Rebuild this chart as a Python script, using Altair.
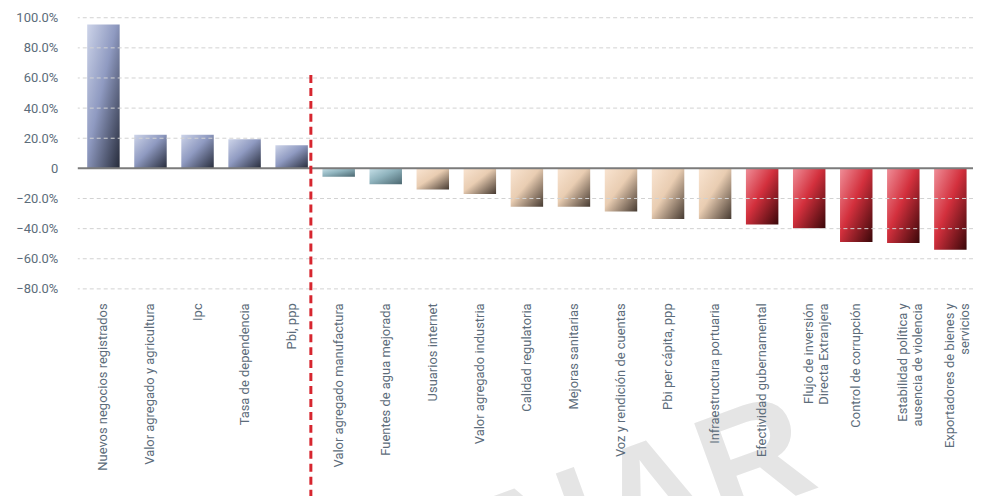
import altair as alt
import pandas as pd

categories = [
    "Nuevos negocios registrados",
    "Valor agregado y agricultura",
    "Ipc",
    "Tasa de dependencia",
    "Pbi, ppp",
    "Valor agregado manufactura",
    "Fuentes de agua mejorada",
    "Usuarios internet",
    "Valor agregado industria",
    "Calidad regulatoria",
    "Mejoras sanitarias",
    "Voz y rendición de cuentas",
    "Pbi per cápita, ppp",
    "Infraestructura portuaria",
    "Efectividad gubernamental",
    "Flujo de inversión|Directa Extranjera",
    "Control de corrupción",
    "Estabilidad política y|ausencia de violencia",
    "Exportadores de bienes y|servicios",
]
values = [95.5, 22.4, 22.4, 19.3, 15.3, -5.5, -10.5, -14.0, -17.0, -25.4, -25.4,
          -28.6, -33.6, -33.6, -37.3, -39.8, -48.8, -49.5, -54.0]
groups = ["blue"] * 5 + ["teal"] * 2 + ["tan"] * 7 + ["red"] * 5
y_ticks = [-80, -60, -40, -20, 0, 20, 40, 60, 80, 100]
grid_values = [-80, -60, -40, -20, 20, 40, 60, 80, 100]

df = pd.DataFrame({"cat": categories, "value": values, "group": groups})

FONT = "Roboto, Liberation Sans, sans-serif"
LABEL_COLOR = "#5c6c7a"

gradients = {
    "blue": ["#cdd4e9", "#8f9ac1", "#262b3a"],
    "teal": ["#c6e0e8", "#8fb3bd", "#4b6770"],
    "tan": ["#f9e4d1", "#e9cdb2", "#463a31"],
    "red": ["#ef8e98", "#d3303d", "#3a0709"],
}

x_scale = alt.Scale(paddingInner=0.31, paddingOuter=0.2)
y_scale = alt.Scale(domain=[-80, 100], nice=False, zero=False)

x_axis = alt.Axis(title=None, labelAngle=270, labelExpr="split(datum.label, '|')",
                  labelFont=FONT, labelFontSize=13, labelColor=LABEL_COLOR,
                  labelPadding=14, ticks=False, domain=False, grid=False,
                  domainOpacity=0, gridOpacity=0, tickOpacity=0,
                  labelLineHeight=15, labelLimit=400, zindex=1,
                  labelAlign="right", labelBaseline="middle", labelOverlap=False)
y_axis = alt.Axis(title=None, values=y_ticks, grid=False, domain=False, ticks=False,
                  domainOpacity=0, gridOpacity=0, tickOpacity=0,
                  labelExpr="datum.value == 0 ? '0' : format(datum.value, '.1f') + '%'",
                  labelFont=FONT, labelFontSize=13, labelColor=LABEL_COLOR,
                  labelPadding=20, zindex=1, labelOverlap=False)

x_enc = alt.X("cat:N", sort=categories, scale=x_scale, axis=x_axis)
y_enc = alt.Y("value:Q", scale=y_scale, axis=y_axis)

watermark = alt.Chart(pd.DataFrame({"t": ["PRELIMINAR"]})).mark_text(
    angle=340, align="right", baseline="alphabetic", fontSize=150, fontWeight="bold",
    font="Liberation Sans", color="#e5e5e5", clip=False, xOffset=-35,
).encode(
    text="t:N",
    x=alt.X(datum="Control de corrupción", scale=x_scale, axis=x_axis),
    y=alt.Y(datum=-211, scale=y_scale, axis=y_axis),
)

bar_layers = []
for g, cols in gradients.items():
    grad = alt.Gradient(
        gradient="linear",
        stops=[alt.GradientStop(color=cols[0], offset=0),
               alt.GradientStop(color=cols[1], offset=0.45),
               alt.GradientStop(color=cols[2], offset=1)],
        x1=0, y1=0, x2=1, y2=1,
    )
    bar_layers.append(
        alt.Chart(df).transform_filter(alt.datum.group == g)
        .mark_bar(color=grad).encode(x=x_enc, y=y_enc)
    )

grid = alt.Chart(pd.DataFrame({"g": grid_values})).mark_rule(
    color="#d2d2d2", strokeDash=[4, 3], strokeWidth=1, xOffset=-3, x2Offset=6, clip=False
).encode(y=alt.Y("g:Q", scale=y_scale, axis=y_axis))

zero = alt.Chart(pd.DataFrame({"z": [0]})).mark_rule(
    color="#7b7b7b", strokeWidth=2, xOffset=-3, x2Offset=6, clip=False
).encode(y=alt.Y("z:Q", scale=y_scale, axis=y_axis))

divider = alt.Chart(pd.DataFrame({"cat": ["Pbi, ppp"], "top": [62], "bot": [-230]})).mark_rule(
    color="#d7262f", strokeWidth=3, strokeDash=[8, 5], clip=False, xOffset=3
).encode(
    x=alt.X("cat:N", sort=categories, bandPosition=1, scale=x_scale, axis=x_axis),
    y=alt.Y("top:Q", scale=y_scale, axis=y_axis),
    y2="bot:Q",
)

chart = alt.layer(watermark, *bar_layers, grid, zero, divider).properties(
    width=901, height=272,
    padding={"left": 70, "top": 9, "right": 0, "bottom": 207},
    autosize=alt.AutoSizeParams(type="none"),
    background="white",
).configure_view(stroke=None, strokeOpacity=0).configure_axis(
    grid=False, domain=False, ticks=False, domainOpacity=0, gridOpacity=0
)

chart.save("out.html", embed_options={"renderer": "svg", "actions": False})
